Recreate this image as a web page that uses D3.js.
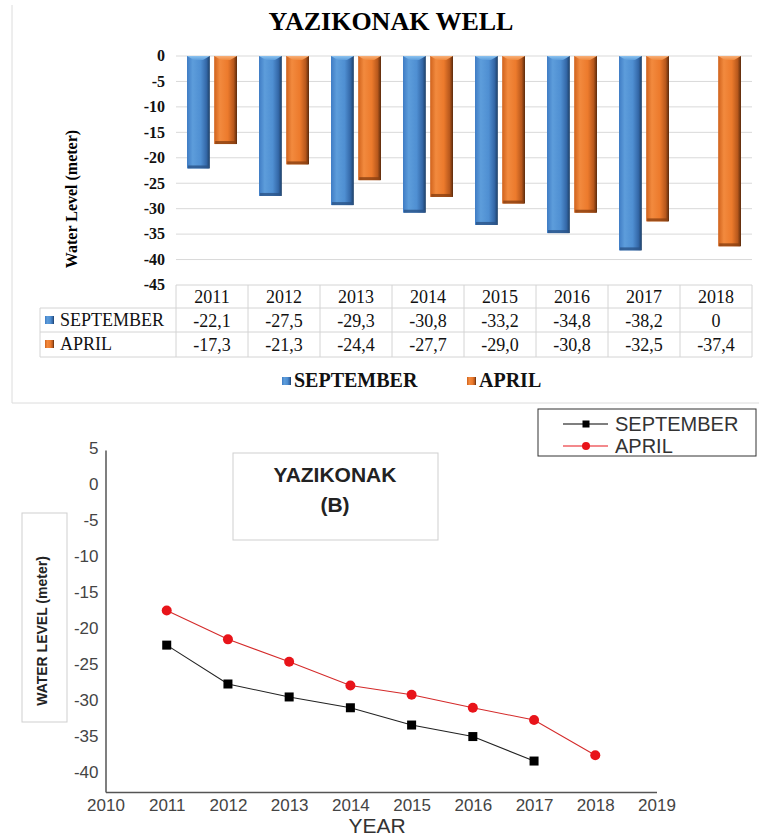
<!DOCTYPE html>
<html><head><meta charset="utf-8">
<script src="https://cdn.jsdelivr.net/npm/d3@7"></script>
<style>body{margin:0;background:#fff} svg{display:block}</style>
</head><body>
<svg id="c" width="759" height="838"></svg>
<script>
// ---------- data ----------
const years = ["2011","2012","2013","2014","2015","2016","2017","2018"];
const september = [-22.1,-27.5,-29.3,-30.8,-33.2,-34.8,-38.2,0];
const april = [-17.3,-21.3,-24.4,-27.7,-29.0,-30.8,-32.5,-37.4];
const seriesNames = ["SEPTEMBER","APRIL"];
const barTicks = [0,-5,-10,-15,-20,-25,-30,-35,-40,-45];
const lineXTicks = [2010,2011,2012,2013,2014,2015,2016,2017,2018,2019];
const lineYTicks = [5,0,-5,-10,-15,-20,-25,-30,-35,-40];
const septYears = [2011,2012,2013,2014,2015,2016,2017];
const aprilYears = [2011,2012,2013,2014,2015,2016,2017,2018];

const svg = d3.select("#c");
const serif = "'Liberation Serif','Times New Roman',serif";
const sans = "'Liberation Sans',Arial,sans-serif";
const fmt = v => v === 0 ? "0" : v.toFixed(1).replace(".", ",");

// gradients
const defs = svg.append("defs");
function grad(id, stops, dir) {
  const g = defs.append("linearGradient").attr("id", id);
  if (dir === "v") g.attr("x1", 0).attr("y1", 0).attr("x2", 0).attr("y2", 1);
  else g.attr("x1", 0).attr("y1", 0).attr("x2", 1).attr("y2", 0);
  stops.forEach(s => g.append("stop").attr("offset", s[0]).attr("stop-color", s[1]));
}
grad("gBlue", [[0,"#3f7cc4"],[0.25,"#5d9ddb"],[0.6,"#4f8fd2"],[0.85,"#3468a8"],[1,"#1d3f66"]]);
grad("gOrange", [[0,"#d0621c"],[0.25,"#f28a3e"],[0.6,"#ec7a2c"],[0.85,"#b8581c"],[1,"#5a2a0c"]]);
grad("gBlueCap", [[0,"#8cc3f0"],[1,"#5d9ddb"]], "v");
grad("gOrangeCap", [[0,"#f8b07a"],[1,"#f08a3e"]], "v");
const fills = {SEPTEMBER: "url(#gBlue)", APRIL: "url(#gOrange)"};
const caps = {SEPTEMBER: "url(#gBlueCap)", APRIL: "url(#gOrangeCap)"};
const bottoms = {SEPTEMBER: "#2a5488", APRIL: "#8a4012"};

// ---------- panel A : bar chart ----------
svg.append("line").attr("x1", 12).attr("x2", 12).attr("y1", 5).attr("y2", 403).attr("stroke", "#dcdcdc");
svg.append("line").attr("x1", 12).attr("x2", 759).attr("y1", 403).attr("y2", 403).attr("stroke", "#dcdcdc");

svg.append("text").attr("x", 391).attr("y", 30).attr("text-anchor", "middle")
  .attr("font-family", serif).attr("font-weight", "bold").attr("font-size", 26)
  .text("YAZIKONAK WELL");

const x0 = d3.scaleBand().domain(years).range([176, 752]).padding(0);
const x1 = d3.scaleBand().domain(seriesNames).range([11, 61]).paddingInner(0.16);
const yA = d3.scaleLinear().domain([-45, 0]).range([285, 56]);

// gridlines
svg.append("g").selectAll("line").data(barTicks.filter(t => t > -45)).join("line")
  .attr("x1", 176).attr("x2", 752).attr("y1", d => yA(d)).attr("y2", d => yA(d))
  .attr("stroke", "#d9d9d9");

// y tick labels
const axA = svg.append("g").attr("transform", "translate(176,0)")
  .call(d3.axisLeft(yA).tickValues(barTicks).tickSize(0).tickPadding(11).tickFormat(d => String(d)));
axA.select(".domain").remove();
axA.selectAll("text").attr("font-family", serif).attr("font-weight", "bold")
  .attr("font-size", 16).attr("fill", "#111").attr("dy", "0.3em");

svg.append("text").attr("transform", "translate(77,199) rotate(-90)")
  .attr("text-anchor", "middle").attr("font-family", serif).attr("font-weight", "bold")
  .attr("font-size", 16).text("Water Level (meter)");

// bars
const barData = [];
years.forEach((yr, i) => {
  barData.push({yr, s: "SEPTEMBER", v: september[i]});
  barData.push({yr, s: "APRIL", v: april[i]});
});
const bg = svg.append("g");
const bars = bg.selectAll("g").data(barData.filter(d => d.v !== 0)).join("g")
  .attr("transform", d => `translate(${x0(d.yr) + x1(d.s)},0)`);
bars.append("rect").attr("x", 0).attr("y", yA(0)).attr("width", x1.bandwidth())
  .attr("height", d => yA(d.v) - yA(0)).attr("fill", d => fills[d.s]);
bars.append("rect").attr("x", 1).attr("y", d => yA(d.v) - 3).attr("width", x1.bandwidth() - 2)
  .attr("height", 3).attr("fill", d => bottoms[d.s]).attr("opacity", 0.8);
bars.append("path")
  .attr("d", d => {
    const w = x1.bandwidth(), y = yA(0);
    return `M0,${y} L${w},${y} L${w*0.7},${y+4} L${w*0.3},${y+4} Z`;
  })
  .attr("fill", d => caps[d.s]);

// table
const tY = [285, 308, 332, 357];
const tg = svg.append("g").attr("stroke", "#d4d4d4").attr("stroke-width", 1);
tg.append("line").attr("x1", 176).attr("x2", 752).attr("y1", tY[0]).attr("y2", tY[0]);
tY.slice(1).forEach(y => tg.append("line").attr("x1", 40).attr("x2", 752).attr("y1", y).attr("y2", y));
tg.append("line").attr("x1", 40).attr("x2", 40).attr("y1", tY[1]).attr("y2", tY[3]);
tg.selectAll("line.v").data(years.concat(["end"])).join("line").attr("class", "v")
  .attr("x1", d => d === "end" ? 752 : x0(d)).attr("x2", d => d === "end" ? 752 : x0(d))
  .attr("y1", tY[0]).attr("y2", tY[3]);

const tt = svg.append("g").attr("font-family", serif).attr("font-size", 18).attr("fill", "#111")
  .attr("text-anchor", "middle");
tt.selectAll("text.h").data(years).join("text").attr("class", "h")
  .attr("x", d => x0(d) + x0.bandwidth() / 2).attr("y", 303).text(d => d);
tt.selectAll("text.s").data(september).join("text").attr("class", "s")
  .attr("x", (d, i) => x0(years[i]) + x0.bandwidth() / 2).attr("y", 327).text(fmt);
tt.selectAll("text.a").data(april).join("text").attr("class", "a")
  .attr("x", (d, i) => x0(years[i]) + x0.bandwidth() / 2).attr("y", 351).text(fmt);

const keyG = {SEPTEMBER: "url(#gBlue)", APRIL: "url(#gOrange)"};
seriesNames.forEach((s, i) => {
  const cy = i === 0 ? 320 : 344;
  svg.append("rect").attr("x", 45).attr("y", cy - 4).attr("width", 9).attr("height", 8).attr("fill", keyG[s]);
  svg.append("text").attr("x", 60).attr("y", cy + 6).attr("font-family", serif).attr("font-size", 18)
    .attr("fill", "#111").text(s);
});

// bottom legend
const legA = [{s: "SEPTEMBER", x: 282}, {s: "APRIL", x: 467}];
legA.forEach(l => {
  svg.append("rect").attr("x", l.x).attr("y", 377).attr("width", 9).attr("height", 8).attr("fill", keyG[l.s]);
  svg.append("text").attr("x", l.x + 12).attr("y", 387).attr("font-family", serif).attr("font-weight", "bold")
    .attr("font-size", 20).attr("fill", "#111").text(l.s);
});

// ---------- panel B : line chart ----------
const xB = d3.scaleLinear().domain([2010, 2019]).range([105.5, 656.5]);
const yB = d3.scaleLinear().domain([-42.5, 5]).range([792, 450]);

const axL = svg.append("g").attr("transform", "translate(105.5,0)")
  .call(d3.axisLeft(yB).tickValues(lineYTicks).tickSize(0).tickSizeOuter(0).tickPadding(7).tickFormat(d => String(d)));
axL.select(".domain").attr("stroke", "#555").attr("stroke-width", 1.5);
axL.selectAll("text").attr("font-family", sans).attr("font-size", 17).attr("fill", "#444").attr("dy", "0.2em");

const axB = svg.append("g").attr("transform", "translate(0,792)")
  .call(d3.axisBottom(xB).tickValues(lineXTicks).tickSize(0).tickSizeOuter(0).tickPadding(6).tickFormat(d => String(d)));
axB.select(".domain").attr("stroke", "#555").attr("stroke-width", 1.5);
axB.selectAll("text").attr("font-family", sans).attr("font-size", 17).attr("fill", "#444").attr("dy", "0.75em");

svg.append("text").attr("x", 377).attr("y", 833).attr("text-anchor", "middle")
  .attr("font-family", sans).attr("font-size", 21).attr("fill", "#333").text("YEAR");

// y title box
svg.append("rect").attr("x", 22).attr("y", 513).attr("width", 45).attr("height", 209)
  .attr("fill", "none").attr("stroke", "#cfcfcf");
svg.append("text").attr("transform", "translate(47,631) rotate(-90)").attr("text-anchor", "middle")
  .attr("font-family", sans).attr("font-weight", "bold").attr("font-size", 14).attr("fill", "#222")
  .text("WATER LEVEL (meter)");

// title box
svg.append("rect").attr("x", 233).attr("y", 453).attr("width", 205).attr("height", 87)
  .attr("fill", "none").attr("stroke", "#cfcfcf");
svg.append("text").attr("x", 335).attr("y", 482).attr("text-anchor", "middle")
  .attr("font-family", sans).attr("font-weight", "bold").attr("font-size", 21).attr("fill", "#222").text("YAZIKONAK");
svg.append("text").attr("x", 335).attr("y", 512).attr("text-anchor", "middle")
  .attr("font-family", sans).attr("font-weight", "bold").attr("font-size", 21).attr("fill", "#222").text("(B)");

// lines
const sepPts = septYears.map((y, i) => [y, september[i]]);
const aprPts = aprilYears.map((y, i) => [y, april[i]]);
const lineGen = d3.line().x(d => xB(d[0])).y(d => yB(d[1]));
svg.append("path").datum(aprPts).attr("d", lineGen).attr("fill", "none").attr("stroke", "#d42a2a").attr("stroke-width", 1.1);
svg.append("path").datum(sepPts).attr("d", lineGen).attr("fill", "none").attr("stroke", "#222").attr("stroke-width", 1.1);
svg.append("g").selectAll("circle").data(aprPts).join("circle")
  .attr("cx", d => xB(d[0])).attr("cy", d => yB(d[1])).attr("r", 5).attr("fill", "#e8141a");
svg.append("g").selectAll("rect").data(sepPts).join("rect")
  .attr("x", d => xB(d[0]) - 4.5).attr("y", d => yB(d[1]) - 4.5).attr("width", 9).attr("height", 9).attr("fill", "#000");

// legend B
svg.append("rect").attr("x", 538).attr("y", 409).attr("width", 218).attr("height", 47)
  .attr("fill", "#fff").attr("stroke", "#333");
[{s: "SEPTEMBER", y: 424, c: "#000", m: "sq"}, {s: "APRIL", y: 446, c: "#e8141a", m: "ci"}].forEach(l => {
  svg.append("line").attr("x1", 563).attr("x2", 608).attr("y1", l.y).attr("y2", l.y).attr("stroke", l.c).attr("stroke-width", 1.1);
  if (l.m === "sq") svg.append("rect").attr("x", 582.5).attr("y", l.y - 3.5).attr("width", 7).attr("height", 7).attr("fill", l.c);
  else svg.append("circle").attr("cx", 586).attr("cy", l.y).attr("r", 4).attr("fill", l.c);
  svg.append("text").attr("x", 615).attr("y", l.y + 7).attr("font-family", sans).attr("font-size", 20)
    .attr("fill", "#333").text(l.s);
});
</script>
</body></html>
